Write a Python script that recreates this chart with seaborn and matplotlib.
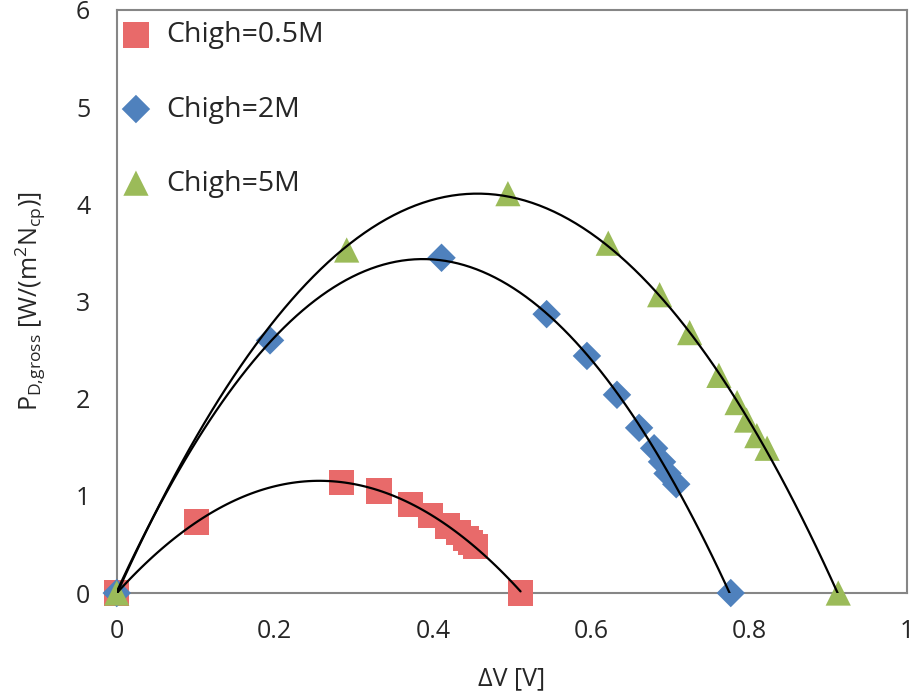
import numpy as np
import pandas as pd
import matplotlib
matplotlib.use("Agg")
from matplotlib import pyplot as plt
import seaborn as sns

# values
v_05 = [0.0, 0.101, 0.284, 0.332, 0.372, 0.397, 0.419, 0.432, 0.442, 0.448, 0.454, 0.511]
p_05 = [0.0, 0.73, 1.14, 1.05, 0.915, 0.80, 0.69, 0.62, 0.56, 0.52, 0.48, 0.0]

v_2 = [0.0, 0.194, 0.411, 0.544, 0.595, 0.633, 0.661, 0.680, 0.690, 0.697, 0.708, 0.777]
p_2 = [0.0, 2.60, 3.45, 2.87, 2.44, 2.04, 1.70, 1.49, 1.35, 1.23, 1.12, 0.0]

v_5 = [0.0, 0.291, 0.495, 0.622, 0.687, 0.725, 0.762, 0.785, 0.797, 0.810, 0.823, 0.913]
p_5 = [0.0, 3.53, 4.11, 3.60, 3.07, 2.68, 2.24, 1.96, 1.78, 1.62, 1.49, 0.0]

labels = ["Chigh=0.5M", "Chigh=2M", "Chigh=5M"]
colors = ["#E86A6A", "#4F81BD", "#9BBB59"]
markers = ["s", "D", "^"]
sizes = [330, 210, 330]

x_ticks = [0, 0.2, 0.4, 0.6, 0.8, 1]
x_ticklabels = ["0", "0.2", "0.4", "0.6", "0.8", "1"]
y_ticks = [0, 1, 2, 3, 4, 5, 6]

sns.set_style("white")
plt.rcParams["font.family"] = ["Open Sans", "DejaVu Sans"]
plt.rcParams["mathtext.fontset"] = "custom"
plt.rcParams["mathtext.rm"] = "Open Sans"

fig = plt.figure(figsize=(9.12, 6.99), dpi=100)
ax = fig.add_axes([0.128, 0.1516, 0.8665, 0.8341])

series = [(v_05, p_05), (v_2, p_2), (v_5, p_5)]
for (v, p), lab, col, mk, sz in zip(series, labels, colors, markers, sizes):
    df = pd.DataFrame({"dV": v, "P": p})
    sns.scatterplot(data=df, x="dV", y="P", marker=mk, s=sz, color=col,
                    edgecolor="none", label=lab, clip_on=False, zorder=3, ax=ax)

# polynomial trendlines
for (v, p) in series:
    df = pd.DataFrame({"dV": v, "P": p})
    sns.regplot(data=df, x="dV", y="P", order=2, ci=None, scatter=False,
                truncate=True, line_kws={"color": "black", "lw": 1.6, "zorder": 4},
                ax=ax)

ax.set_xlim(0, 1)
ax.set_ylim(0, 6)
ax.set_xticks(x_ticks)
ax.set_xticklabels(x_ticklabels)
ax.set_yticks(y_ticks)
ax.tick_params(axis="both", length=0, labelsize=18, pad=19)

for sp in ax.spines.values():
    sp.set_color("#868686")
    sp.set_linewidth(1.5)

ax.set_xlabel("ΔV [V]", fontsize=18, labelpad=16)
ax.set_ylabel(r"P$_{\mathregular{D{,}gross}}$ [W/(m$^{\mathregular{2}}$N$_{\mathregular{cp}}$)]",
              fontsize=18, labelpad=20)

ax.legend(loc="upper left", frameon=False, fontsize=20.5, labelspacing=1.62,
          handlelength=0.55, handletextpad=0.8, borderaxespad=0.0,
          bbox_to_anchor=(0.0, 1.0))

plt.savefig("out.png", dpi=100)
